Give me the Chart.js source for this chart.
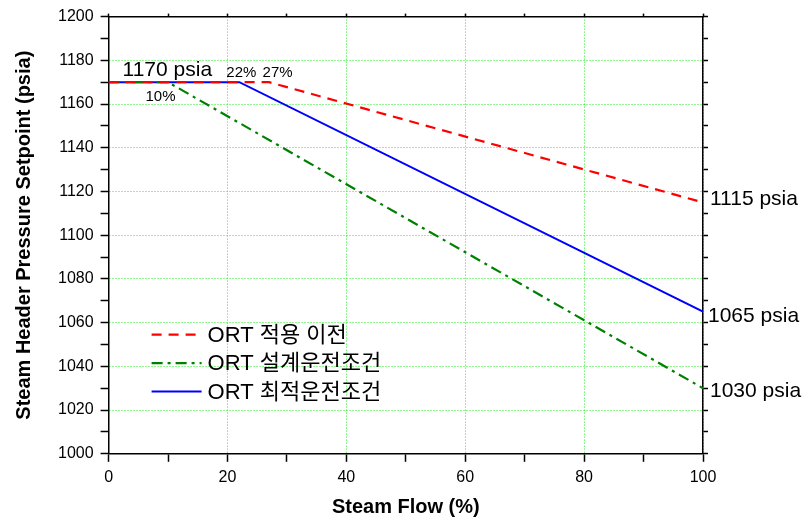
<!DOCTYPE html>
<html>
<head>
<meta charset="utf-8">
<script src="https://cdn.jsdelivr.net/npm/chart.js@4/dist/chart.umd.min.js"></script>
<style>
  html, body { margin: 0; padding: 0; background: #fff; }
  #wrap { width: 809px; height: 519px; }
</style>
</head>
<body>
<div id="wrap"><canvas id="grafico"></canvas></div>
<script>
const seriesNames = ["ORT 적용 이전", "ORT 설계운전조건", "ORT 최적운전조건"];

// Steam flow (%) / setpoint (psia) for each curve
const flowBefore = [0, 27, 100];
const psiaBefore = [1170, 1170, 1115];
const flowDesign = [0, 10, 100];
const psiaDesign = [1170, 1170, 1030];
const flowOptimal = [0, 22, 100];
const psiaOptimal = [1170, 1170, 1065];

// text notes placed at data coordinates
const notes = [
  { text: "1170 psia", x: 2.35, y: 1170, size: 21, dy: -6 },
  { text: "22%", x: 19.8, y: 1170, size: 15, dy: -5 },
  { text: "27%", x: 25.9, y: 1170, size: 15, dy: -5 },
  { text: "10%", x: 6.2, y: 1170, size: 15, dy: 19 },
  { text: "1115 psia", x: 100, y: 1115, size: 21, dx: 7, dy: 3 },
  { text: "1065 psia", x: 100, y: 1065, size: 21, dx: 5, dy: 10 },
  { text: "1030 psia", x: 100, y: 1030, size: 21, dx: 7, dy: 9 }
];

const FONT = "Arial, 'Liberation Sans', 'Noto Sans CJK KR', sans-serif";
const gridGreen = "#22ee22";

const toPoints = (xs, ys) => xs.map((x, i) => ({ x: x, y: ys[i] }));

const notesPlugin = {
  id: "notes",
  afterDatasetsDraw(chart) {
    const c = chart.ctx;
    const xs = chart.scales.x;
    const ys = chart.scales.y;
    c.save();
    c.fillStyle = "#000";
    c.textAlign = "left";
    c.textBaseline = "alphabetic";
    notes.forEach((n) => {
      c.font = n.size + "px " + FONT;
      c.fillText(n.text, xs.getPixelForValue(n.x) + (n.dx || 0), ys.getPixelForValue(n.y) + (n.dy || 0));
    });
    c.restore();
  }
};

// legend box inside the plot
const legendPlugin = {
  id: "innerLegend",
  afterDatasetsDraw(chart) {
    const c = chart.ctx;
    const area = chart.chartArea;
    const left = area.left + 43;
    const top = area.top + 318;
    c.save();
    chart.data.datasets.forEach((ds, i) => {
      const y = top + i * 28.5;
      c.strokeStyle = ds.borderColor;
      c.lineWidth = ds.borderWidth;
      c.setLineDash(ds.borderDash || []);
      c.beginPath();
      c.moveTo(left, y);
      c.lineTo(left + 50, y);
      c.stroke();
      c.setLineDash([]);
      c.fillStyle = "#000";
      c.font = "22px " + FONT;
      c.textAlign = "left";
      c.textBaseline = "middle";
      c.fillText(ds.label, left + 56, y + 1);
    });
    c.restore();
  }
};

const majorOnly = (v) => (v % 20 === 0 ? String(v) : "");
const gridColor = (ctx) => (ctx.tick && ctx.tick.value % 20 === 0 ? gridGreen : "rgba(0,0,0,0)");

new Chart(document.getElementById("grafico"), {
  type: "line",
  data: {
    datasets: [
      {
        label: seriesNames[0],
        data: toPoints(flowBefore, psiaBefore),
        borderColor: "#ff0000",
        borderWidth: 2.2,
        borderDash: [10, 7],
        pointRadius: 0
      },
      {
        label: seriesNames[1],
        data: toPoints(flowDesign, psiaDesign),
        borderColor: "#008000",
        borderWidth: 2.2,
        borderDash: [11, 5, 3, 5],
        pointRadius: 0
      },
      {
        label: seriesNames[2],
        data: toPoints(flowOptimal, psiaOptimal),
        borderColor: "#0000ff",
        borderWidth: 2,
        pointRadius: 0
      }
    ]
  },
  options: {
    responsive: true,
    maintainAspectRatio: false,
    animation: false,
    layout: { padding: { top: 13, right: 101, left: 8, bottom: 0 } },
    plugins: { legend: { display: false }, tooltip: { enabled: false } },
    scales: {
      x: {
        type: "linear",
        min: 0,
        max: 100,
        ticks: { stepSize: 10, autoSkip: false, maxRotation: 0, padding: 6, color: "#000", font: { family: FONT, size: 16 }, callback: majorOnly },
        grid: { color: gridColor, lineWidth: 1, tickColor: "#000", tickLength: 8, tickWidth: 1.5 },
        border: { display: true, color: "#000", width: 1.5, dash: [1, 2] },
        title: { display: true, text: "Steam Flow (%)", color: "#000", font: { family: FONT, size: 20, weight: "bold" }, padding: { top: 2, bottom: 0 } }
      },
      y: {
        type: "linear",
        min: 1000,
        max: 1200,
        ticks: { stepSize: 10, autoSkip: false, padding: 7, color: "#000", font: { family: FONT, size: 16 }, callback: majorOnly },
        grid: { color: gridColor, lineWidth: 1, tickColor: "#000", tickLength: 8, tickWidth: 1.5 },
        border: { display: true, color: "#000", width: 1.5, dash: [1, 2] },
        title: { display: true, text: "Steam Header Pressure Setpoint (psia)", color: "#000", font: { family: FONT, size: 20, weight: "bold" }, padding: { top: 4, bottom: 15 } }
      },
      x2: {
        type: "linear",
        position: "top",
        min: 0,
        max: 100,
        ticks: { stepSize: 10, display: false },
        grid: { drawOnChartArea: false, tickColor: "#000", tickLength: 3, tickWidth: 1.5 },
        border: { display: true, color: "#000", width: 1.5 }
      },
      y2: {
        type: "linear",
        position: "right",
        min: 1000,
        max: 1200,
        ticks: { stepSize: 10, display: false },
        grid: { drawOnChartArea: false, tickColor: "#000", tickLength: 5, tickWidth: 1.5 },
        border: { display: true, color: "#000", width: 1.5 }
      }
    }
  },
  plugins: [notesPlugin, legendPlugin]
});
</script>
</body>
</html>
